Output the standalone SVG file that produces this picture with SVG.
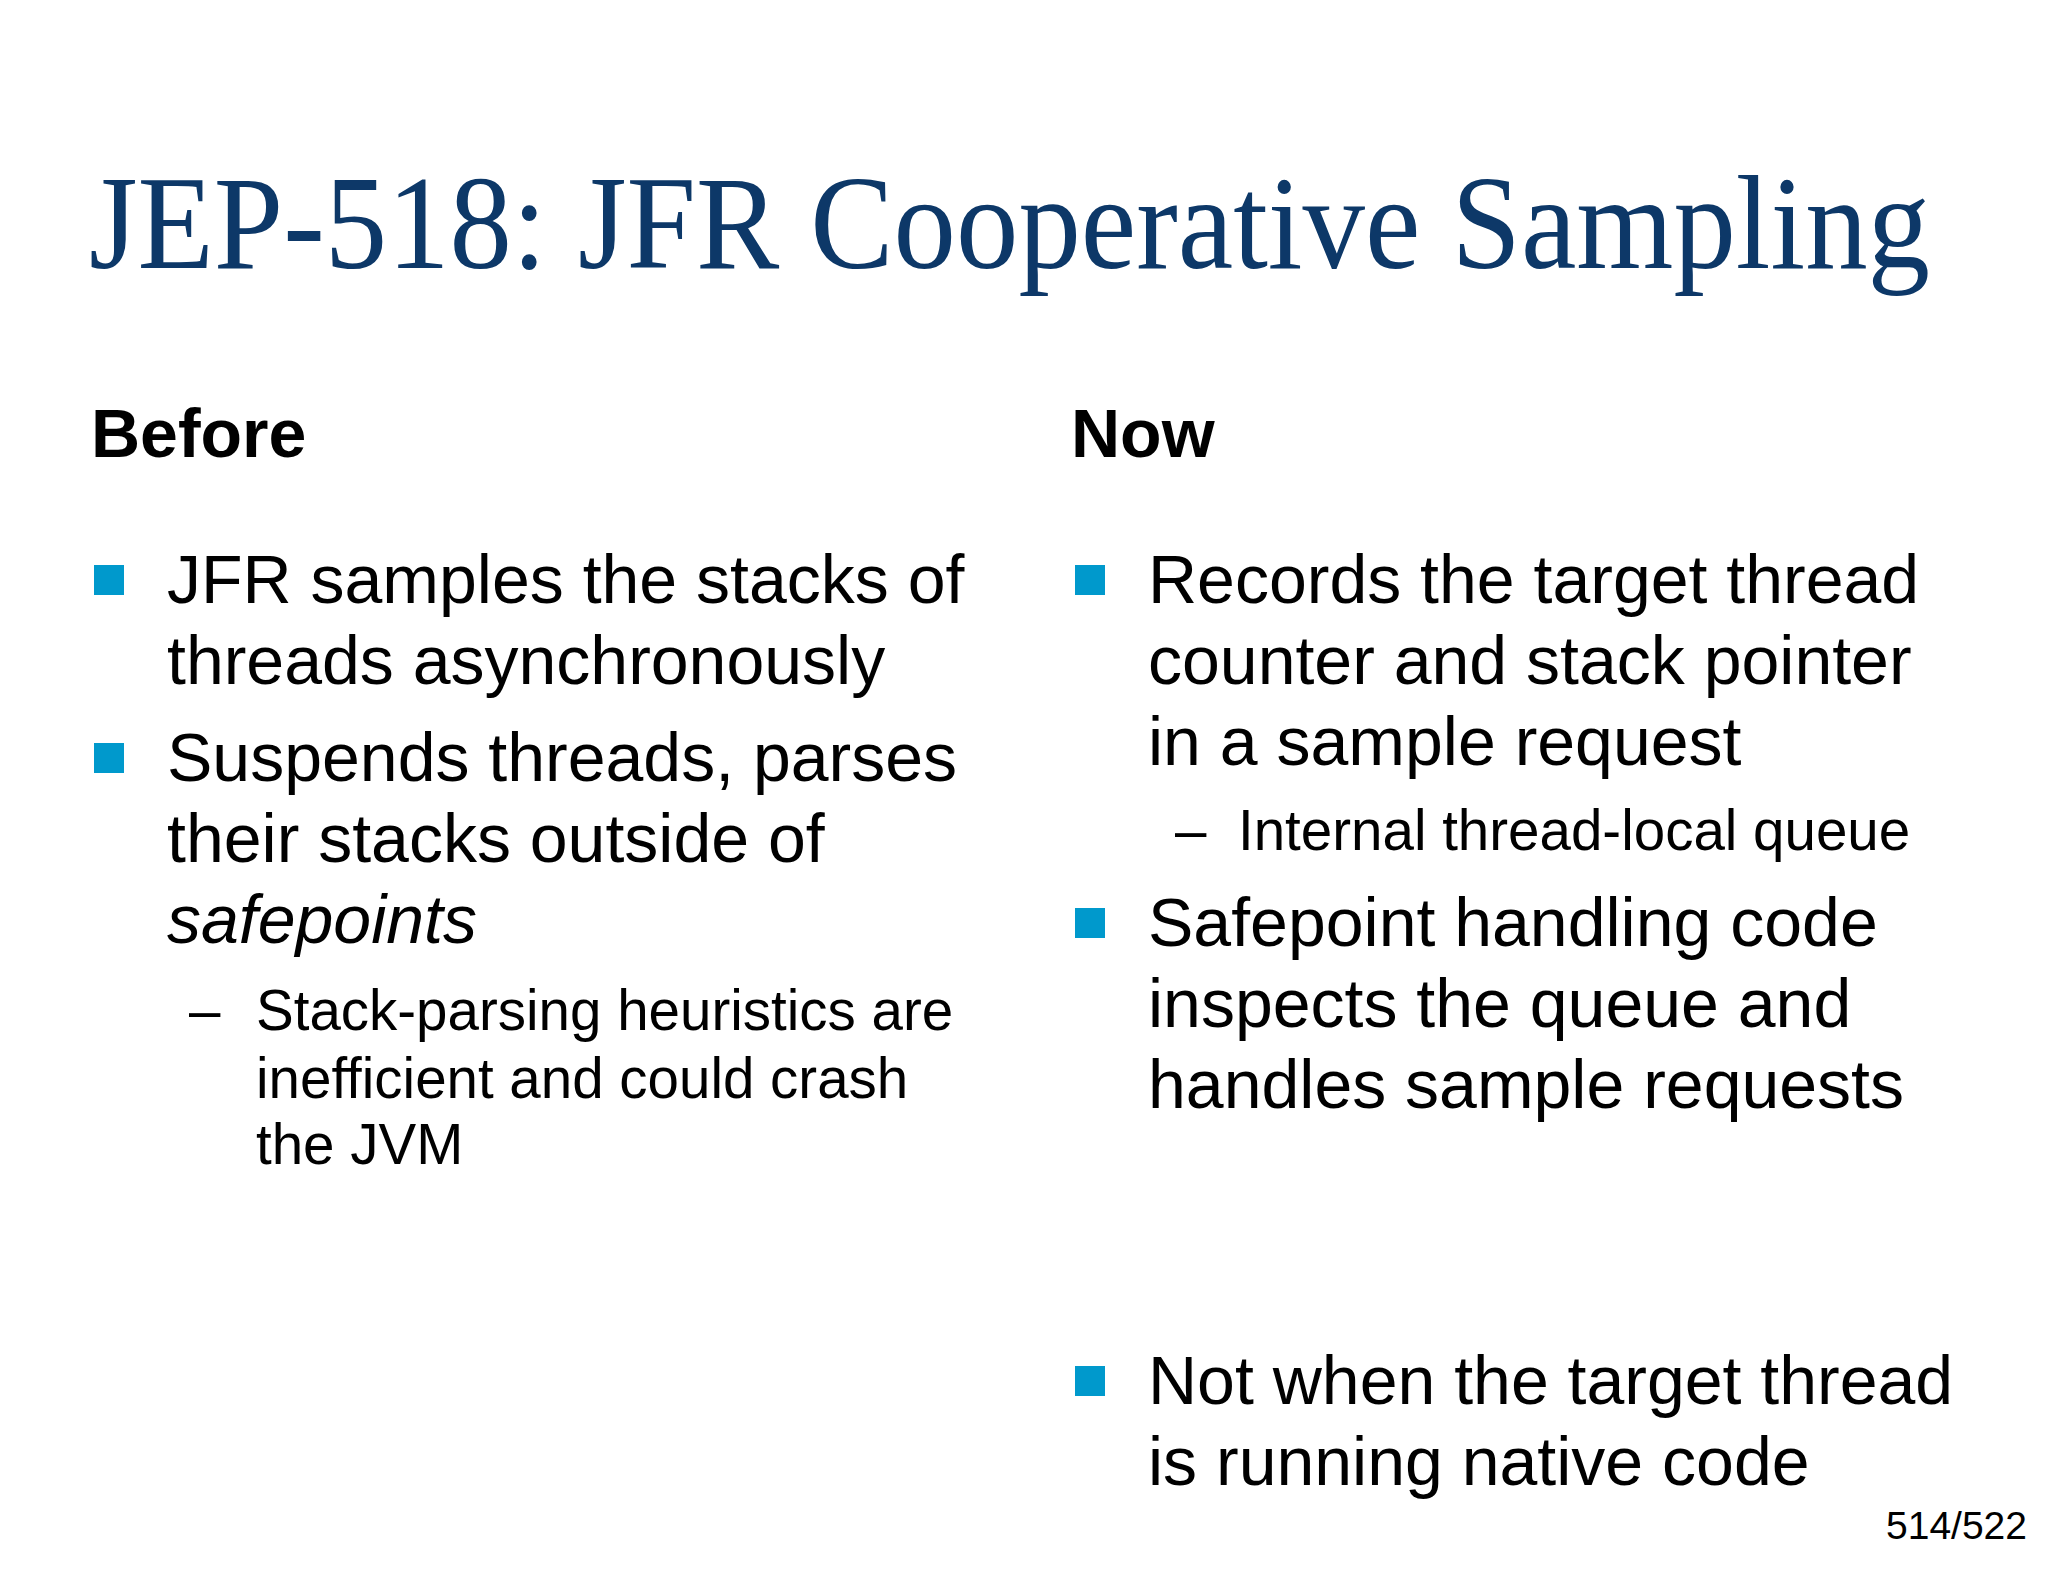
<svg xmlns="http://www.w3.org/2000/svg" width="2048" height="1582" viewBox="0 0 2048 1582">
<style>
.t{font-family:"Liberation Serif",serif;font-size:134px;fill:#0d3868}
.h{font-family:"Liberation Sans",Arial,sans-serif;font-size:68px;font-weight:bold;fill:#000}
.b{font-family:"Liberation Sans",Arial,sans-serif;font-size:68px;fill:#000}
.s{font-family:"Liberation Sans",Arial,sans-serif;font-size:56.5px;fill:#000}
.p{font-family:"Liberation Sans",Arial,sans-serif;font-size:39px;fill:#000}
.q{fill:#0099cc}
</style>
<rect width="2048" height="1582" fill="#fff"/>
<text class="t" x="89" y="268" textLength="1841" lengthAdjust="spacingAndGlyphs">JEP-518: JFR Cooperative Sampling</text>
<g id="before">
<text class="h" x="91" y="457">Before</text>
<rect class="q" x="94" y="565" width="30" height="30"/>
<text class="b" x="167" y="603">JFR samples the stacks of</text>
<text class="b" x="167" y="684">threads asynchronously</text>
<rect class="q" x="94" y="743" width="30" height="30"/>
<text class="b" x="167" y="781">Suspends threads, parses</text>
<text class="b" x="167" y="862">their stacks outside of</text>
<text class="b" x="167" y="943" font-style="italic">safepoints</text>
<text class="s" x="189" y="1030">–</text>
<text class="s" x="256" y="1030">Stack-parsing heuristics are</text>
<text class="s" x="256" y="1098">inefficient and could crash</text>
<text class="s" x="256" y="1164">the JVM</text>
</g>
<g id="now">
<text class="h" x="1071" y="457">Now</text>
<rect class="q" x="1075" y="565" width="30" height="30"/>
<text class="b" x="1148" y="603">Records the target thread</text>
<text class="b" x="1148" y="684">counter and stack pointer</text>
<text class="b" x="1148" y="765">in a sample request</text>
<text class="s" x="1175" y="850">–</text>
<text class="s" x="1238" y="850">Internal thread-local queue</text>
<rect class="q" x="1075" y="908" width="30" height="30"/>
<text class="b" x="1148" y="946">Safepoint handling code</text>
<text class="b" x="1148" y="1027">inspects the queue and</text>
<text class="b" x="1148" y="1108">handles sample requests</text>
<rect class="q" x="1075" y="1366" width="30" height="30"/>
<text class="b" x="1148" y="1404">Not when the target thread</text>
<text class="b" x="1148" y="1485">is running native code</text>
</g>
<text class="p" x="2027" y="1539" text-anchor="end">514/522</text>
</svg>
